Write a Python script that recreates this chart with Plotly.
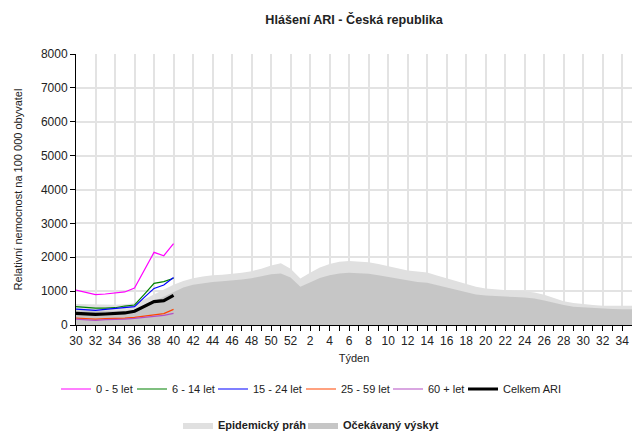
import plotly.graph_objects as go

weeks = [30,31,32,33,34,35,36,37,38,39,40,41,42,43,44,45,46,47,48,49,50,51,52,
         1,2,3,4,5,6,7,8,9,10,11,12,13,14,15,16,17,18,19,20,21,22,23,24,25,26,27,28,29,30,31,32,33,34,35]

threshold = [620,610,600,600,600,610,640,760,900,1050,1190,1300,1380,1430,1470,1480,1500,1540,1590,1660,1760,1820,1660,
             1370,1540,1700,1800,1870,1890,1880,1850,1800,1740,1670,1610,1580,1550,1460,1380,1300,1210,1130,1080,1050,1030,1010,1000,960,890,790,700,650,610,590,570,570,570,570]
expected = [430,420,410,410,410,420,450,560,700,850,990,1110,1190,1240,1270,1290,1310,1340,1380,1440,1500,1520,1400,
            1130,1250,1390,1470,1520,1540,1530,1510,1470,1420,1360,1300,1270,1250,1180,1110,1030,955,900,870,850,835,825,815,780,720,650,590,540,520,500,480,470,465,465]

age_0_5 = [1030,965,895,915,935,975,1090,1620,2145,2045,2400]
age_6_14 = [540,510,500,500,510,560,590,905,1230,1280,1380]
age_15_24 = [470,440,430,460,480,500,540,815,1080,1180,1405]
age_25_59 = [205,190,175,190,190,205,225,255,295,335,460]
age_60 = [175,160,135,160,160,175,195,225,245,285,345]
total = [345,325,315,325,335,355,405,560,690,720,875]

idx = list(range(len(weeks)))
n_obs = len(total)

W, H = 632, 432
L, R, T, B = 76, 0, 54, 432 - 325
PW = W - L - R
PH = H - T - B

def px_x(p):
    return (p - L) / PW

def px_y(p):
    return (H - B - p) / PH

fig = go.Figure()
area_items = [("Epidemický práh", threshold, "#e0e0e0", 218),
              ("Očekávaný výskyt", expected, "#c6c6c6", 343)]
line_items = [("0 - 5 let", age_0_5, "#ff00ff", 1.2, 96),
              ("6 - 14 let", age_6_14, "#008000", 1.2, 172),
              ("15 - 24 let", age_15_24, "#0000ff", 1.2, 253),
              ("25 - 59 let", age_25_59, "#ff4500", 1.2, 341),
              ("60 + let", age_60, "#b44fc4", 1.2, 428),
              ("Celkem ARI", total, "#000000", 3.2, 503)]

legends = {}
k = 1
for name, vals, col, tx in area_items:
    lid = "legend" if k == 1 else f"legend{k}"
    fig.add_trace(go.Scatter(x=idx, y=vals, mode="lines", fill="tozeroy",
                             line=dict(width=0, color=col), fillcolor=col,
                             name=name, legend=lid))
    legends[lid] = dict(x=px_x(tx - 40), y=px_y(425), xanchor="left", yanchor="middle",
                        orientation="h", bgcolor="rgba(0,0,0,0)",
                        font=dict(size=11, color="#222", weight="bold"))
    k += 1
for name, vals, col, w, tx in line_items:
    lid = f"legend{k}"
    fig.add_trace(go.Scatter(x=idx[:n_obs], y=vals, mode="lines", name=name,
                             line=dict(color=col, width=w), legend=lid))
    legends[lid] = dict(x=px_x(tx - 40), y=px_y(389), xanchor="left", yanchor="middle",
                        orientation="h", bgcolor="rgba(0,0,0,0)",
                        font=dict(size=11, color="#222"))
    k += 1

tickvals = idx[::2]
ticktext = [str(weeks[i]) for i in tickvals]

fig.update_layout(
    width=W, height=H,
    margin=dict(l=L, r=R, t=T, b=B, autoexpand=False),
    paper_bgcolor="white", plot_bgcolor="white",
    font=dict(family="Liberation Sans, Arial, sans-serif", size=12, color="#222"),
    title=dict(text="<b>Hlášení ARI - Česká republika</b>", x=0.5, xref="paper",
               y=1 - 20 / H, yref="container", yanchor="middle", font=dict(size=12.6, color="#222")),
    showlegend=True,
    **legends,
)
fig.update_xaxes(range=[0, 57], tickmode="array", tickvals=tickvals, ticktext=ticktext,
                 showgrid=True, gridcolor="#e3e3e3", gridwidth=2, automargin=False,
                 ticks="outside", ticklen=5, tickcolor="#000", showline=True, linecolor="#000",
                 linewidth=1, tickfont=dict(size=12),
                 minor=dict(dtick=1, tick0=0, ticks="outside", ticklen=5, tickcolor="#000", showgrid=False),
                 title=dict(text="Týden", font=dict(size=11), standoff=6), zeroline=False)
fig.update_yaxes(range=[0, 8000], dtick=1000, tick0=0, showgrid=True, gridcolor="#e3e3e3", gridwidth=2,
                 ticks="outside", ticklen=5, tickcolor="#000", showline=True, linecolor="#000",
                 linewidth=1, tickfont=dict(size=12), zeroline=False, automargin=False,
                 title=dict(text="Relativní nemocnost na 100 000 obyvatel", font=dict(size=11), standoff=16))

fig.write_html("out.html", config={"displayModeBar": False},
               post_script="document.body.style.margin='0';document.body.style.overflow='hidden';")
